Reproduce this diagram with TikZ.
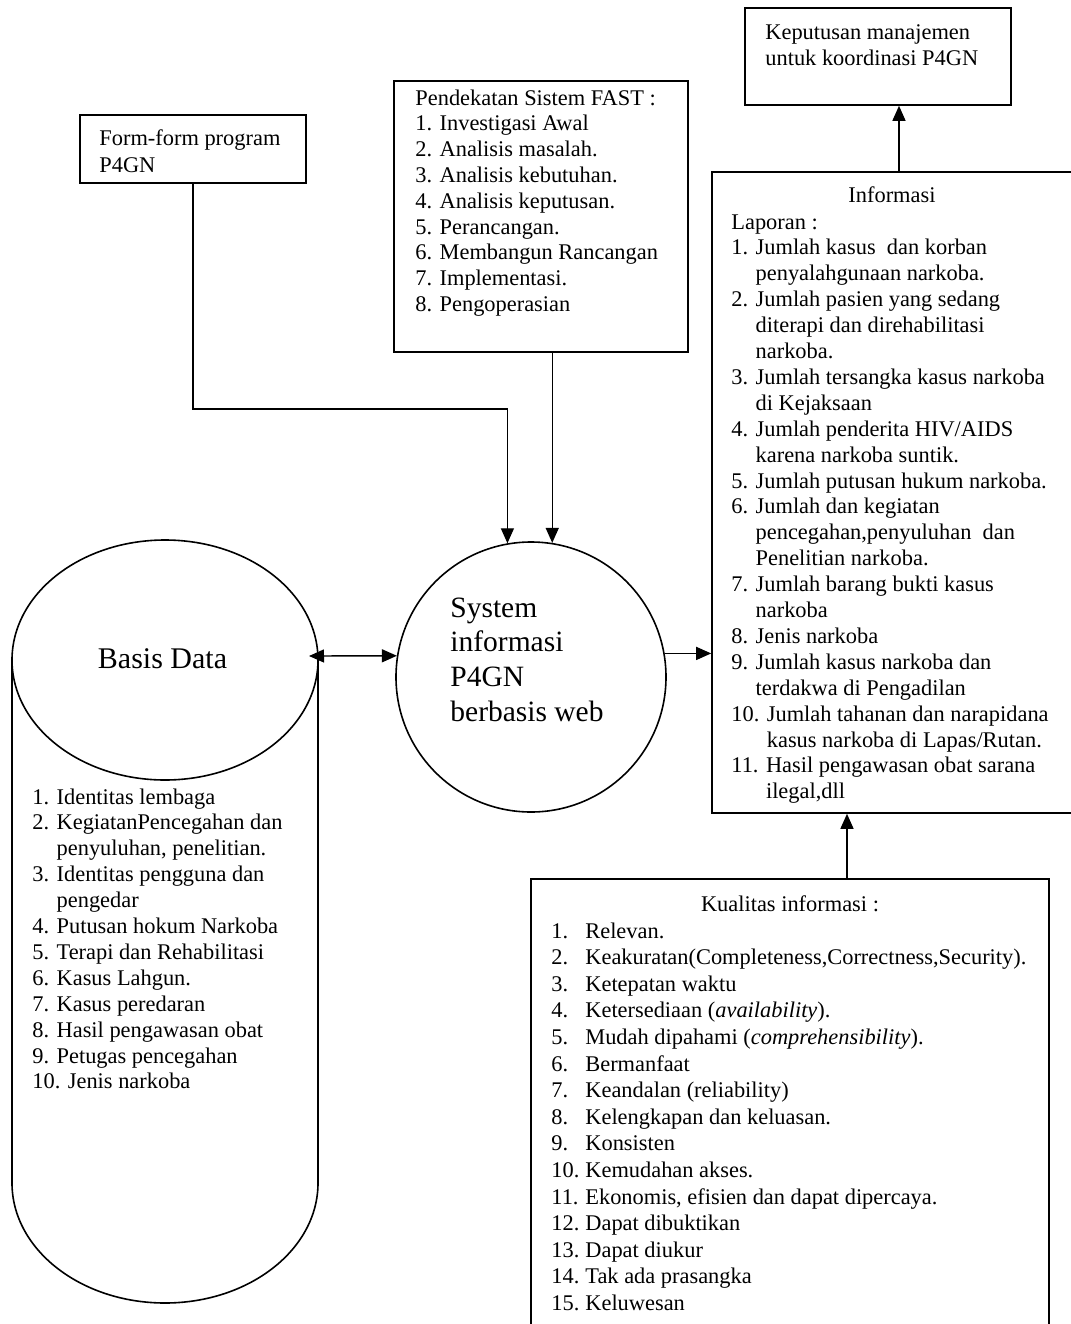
\documentclass[tikz,border=0pt]{standalone}
\usepackage{fontspec}
\setmainfont{Liberation Serif}
\usetikzlibrary{arrows.meta,fit}

% stacked lines whose baseline is the first line
\newcommand\rows[1]{\begin{tabular}[t]{@{}l@{}}#1\end{tabular}}
\newcommand\fs[2]{\fontsize{#1}{#2}\selectfont}
\newcommand\hang[1]{\hphantom{#1}}
\newcommand\qn[1]{\makebox[17pt][l]{#1}}

\begin{document}
\begin{tikzpicture}[x=0.5pt,y=-0.5pt,
  box/.style={draw,line width=0.8pt,inner sep=0pt},
  txt/.style={inner sep=0pt,anchor=base west},
  ctxt/.style={inner sep=0pt,anchor=base},
  link/.style={line width=0.7pt,-{Triangle[length=7.5pt,width=6.5pt]}},
  dlink/.style={line width=0.7pt,{Triangle[length=7.5pt,width=6.5pt]}-{Triangle[length=7.5pt,width=6.5pt]}},
]
\useasboundingbox (0,0) rectangle (1071,1324);

% ---- boxes ----
\node[box,fit={(80,115)(306,183)}] (form) {};
\node[box,fit={(394,81)(688,352)}] (fast) {};
\node[box,fit={(745,8)(1011,105)}] (kep) {};
\node[box,fit={(712,172)(1086,813)}] (info) {};
\node[box,fit={(531,879)(1049,1345)}] (qual) {};

% ---- process circle ----
\node[draw,circle,line width=0.8pt,minimum size=135pt,inner sep=0pt] (sys) at (531,677) {};

% ---- database cylinder ----
\draw[line width=0.8pt] (165,660) ellipse [x radius=76.5pt,y radius=60pt];
\draw[line width=0.8pt] (12,660) -- (12,1183)
  arc[start angle=180,end angle=360,x radius=76.5pt,y radius=60pt] -- (318,660);
\coordinate (dbport) at (309,656);

% ---- texts ----
\node[txt,font=\fs{11.2}{13.5}] (formtxt) at (99,145)
  {\rows{Form-form program\\P4GN}};

\node[txt,font=\fs{11.2}{12.9}] (fasttxt) at (415,105)
  {\rows{Pendekatan Sistem FAST :\\
  1. Investigasi Awal\\
  2. Analisis masalah.\\
  3. Analisis kebutuhan.\\
  4. Analisis keputusan.\\
  5. Perancangan.\\
  6. Membangun Rancangan\\
  7. Implementasi.\\
  8. Pengoperasian}};

\node[txt,font=\fs{11.2}{13}] (keptxt) at (765,39)
  {\rows{Keputusan manajemen\\untuk koordinasi P4GN}};

\node[ctxt,font=\fs{11.2}{12.95}] (infotitle) at (892,202) {Informasi};
\node[txt,font=\fs{11.2}{12.95}] (infotxt) at (731,229)
  {\rows{Laporan :\\
  1. Jumlah kasus~ dan korban\\
  \hang{1. }penyalahgunaan narkoba.\\
  2. Jumlah pasien yang sedang\\
  \hang{2. }diterapi dan direhabilitasi\\
  \hang{2. }narkoba.\\
  3. Jumlah tersangka kasus narkoba\\
  \hang{3. }di Kejaksaan\\
  4. Jumlah penderita HIV/AIDS\\
  \hang{4. }karena narkoba suntik.\\
  5. Jumlah putusan hukum narkoba.\\
  6. Jumlah dan kegiatan\\
  \hang{6. }pencegahan,penyuluhan~ dan\\
  \hang{6. }Penelitian narkoba.\\
  7. Jumlah barang bukti kasus\\
  \hang{7. }narkoba\\
  8. Jenis narkoba\\
  9. Jumlah kasus narkoba dan\\
  \hang{9. }terdakwa di Pengadilan\\
  10. Jumlah tahanan dan narapidana\\
  \hang{10. }kasus narkoba di Lapas/Rutan.\\
  11. Hasil pengawasan obat sarana\\
  \hang{11. }ilegal,dll}};

\node[txt,font=\fs{14.75}{17.35}] (systxt) at (450,617)
  {\rows{System\\informasi\\P4GN\\berbasis web}};

\node[ctxt,font=\fs{15}{18}] (dbtitle) at (162.5,668) {Basis Data};
\node[txt,font=\fs{11.2}{12.95}] (dbtxt) at (32,804)
  {\rows{1. Identitas lembaga\\
  2. KegiatanPencegahan dan\\
  \hang{2. }penyuluhan, penelitian.\\
  3. Identitas pengguna dan\\
  \hang{3. }pengedar\\
  4. Putusan hokum Narkoba\\
  5. Terapi dan Rehabilitasi\\
  6. Kasus Lahgun.\\
  7. Kasus peredaran\\
  8. Hasil pengawasan obat\\
  9. Petugas pencegahan\\
  10. Jenis narkoba}};

\node[ctxt,font=\fs{11.2}{13.3}] (qualtitle) at (790,911) {Kualitas informasi :};
\node[txt,font=\fs{11.2}{13.3}] (qualtxt) at (551,938)
  {\rows{\qn{1.}Relevan.\\
  \qn{2.}Keakuratan(Completeness,Correctness,Security).\\
  \qn{3.}Ketepatan waktu\\
  \qn{4.}Ketersediaan (\textit{availability}).\\
  \qn{5.}Mudah dipahami (\textit{comprehensibility}).\\
  \qn{6.}Bermanfaat\\
  \qn{7.}Keandalan (reliability)\\
  \qn{8.}Kelengkapan dan keluasan.\\
  \qn{9.}Konsisten\\
  \qn{10.}Kemudahan akses.\\
  \qn{11.}Ekonomis, efisien dan dapat dipercaya.\\
  \qn{12.}Dapat dibuktikan\\
  \qn{13.}Dapat diukur\\
  \qn{14.}Tak ada prasangka\\
  \qn{15.}Keluwesan}};

% ---- connectors ----
\draw[link] (form.south) -- ++(0,225) -| (sys.100);
\draw[link] (sys.81 |- fast.south) -- (sys.81);
\draw[dlink] (dbport) -- (sys.171);
\draw[link] (sys.10) -- (sys.10 -| info.west);
\draw[link] (info.north) -- (info.north |- kep.south);
\draw[link] ([xshift=28.5pt]qual.north) -- ([xshift=28.5pt]qual.north |- info.south);
\end{tikzpicture}
\end{document}
